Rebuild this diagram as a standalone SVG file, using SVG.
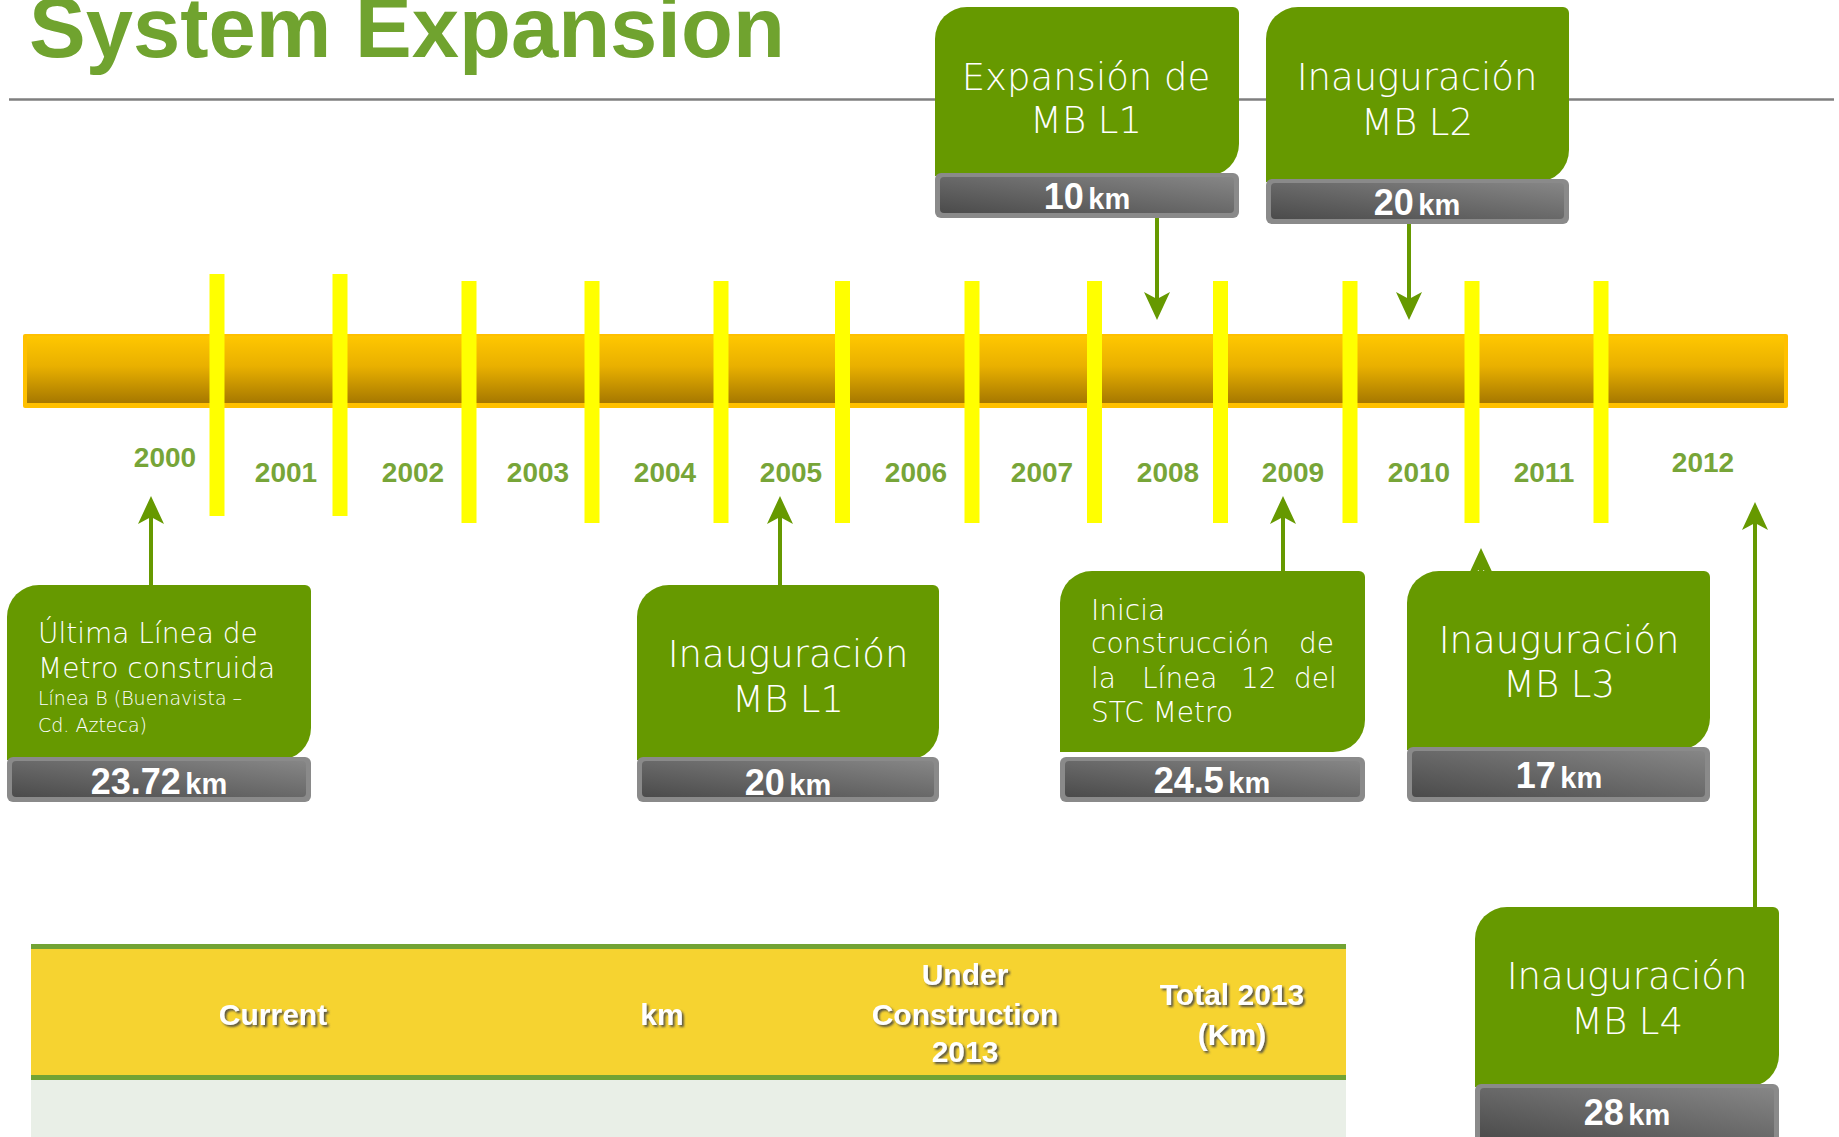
<svg xmlns="http://www.w3.org/2000/svg" width="1839" height="1137" viewBox="0 0 1839 1137">
<defs>
<style>
.title{font-family:"Liberation Sans",Arial,sans-serif;font-weight:bold;font-size:85px;fill:#70A32F}
.yr{font-family:"Liberation Sans",Arial,sans-serif;font-weight:bold;font-size:28px;fill:#77A538;text-anchor:middle}
.tick{fill:#FFFF00}
.box{fill:#669900}
.lbl{font-family:"DejaVu Sans","Liberation Sans",sans-serif;font-weight:200;fill:#FFFFFF}
.big{font-size:37px;text-anchor:middle}
.km{font-family:"Liberation Sans",Arial,sans-serif;font-weight:bold;fill:#FFFFFF;text-anchor:middle}
.num{font-size:36px}
.unit{font-size:29px}
.gout{fill:#8A8A8A}
.gin{fill:url(#gg)}
.conn{fill:none;stroke:#669900;stroke-width:4;marker-end:url(#ah)}
.th{font-family:"Liberation Sans",Arial,sans-serif;font-weight:bold;font-size:30px;fill:#FFFFFF;text-anchor:middle;filter:url(#sh)}
</style>
<linearGradient id="gg" x1="0" y1="1" x2="1" y2="0">
<stop offset="0" stop-color="#4B4B4B"/>
<stop offset="1" stop-color="#868686"/>
</linearGradient>
<linearGradient id="bar" x1="0" y1="0" x2="0" y2="1">
<stop offset="0" stop-color="#FFC700"/>
<stop offset="0.45" stop-color="#E9B000"/>
<stop offset="1" stop-color="#A67800"/>
</linearGradient>
<filter id="sh" x="-10%" y="-20%" width="130%" height="150%">
<feDropShadow dx="2" dy="2" stdDeviation="0.8" flood-color="#4A4A4A" flood-opacity="0.9"/>
</filter>
<marker id="ah" viewBox="0 0 28 28" refX="7" refY="14" markerWidth="28" markerHeight="28" markerUnits="userSpaceOnUse" orient="auto">
<path d="M0,1 L28,14 L0,27 L7,14 Z" fill="#669900"/>
</marker>
</defs>

<rect width="1839" height="1137" fill="#FFFFFF"/>

<g id="header">
<text class="title" x="29" y="57">System Expansion</text>
<line x1="9" y1="99.5" x2="1834" y2="99.5" stroke="#7F7F7F" stroke-width="2.5"/>
</g>

<g id="timeline">
<rect x="23" y="334" width="1765" height="74" rx="2" fill="#FFC000"/>
<rect x="27" y="336" width="1757" height="67" fill="url(#bar)"/>
<rect class="tick" x="209.5" y="274" width="15" height="242"/>
<rect class="tick" x="332.5" y="274" width="15" height="242"/>
<rect class="tick" x="461.5" y="281" width="15" height="242"/>
<rect class="tick" x="584.5" y="281" width="15" height="242"/>
<rect class="tick" x="713.5" y="281" width="15" height="242"/>
<rect class="tick" x="835" y="281" width="15" height="242"/>
<rect class="tick" x="964.5" y="281" width="15" height="242"/>
<rect class="tick" x="1087" y="281" width="15" height="242"/>
<rect class="tick" x="1213" y="281" width="15" height="242"/>
<rect class="tick" x="1342.5" y="281" width="15" height="242"/>
<rect class="tick" x="1464.5" y="281" width="15" height="242"/>
<rect class="tick" x="1593.5" y="281" width="15" height="242"/>
<text class="yr" x="165" y="467">2000</text>
<text class="yr" x="286" y="482">2001</text>
<text class="yr" x="413" y="482">2002</text>
<text class="yr" x="538" y="482">2003</text>
<text class="yr" x="665" y="482">2004</text>
<text class="yr" x="791" y="482">2005</text>
<text class="yr" x="916" y="482">2006</text>
<text class="yr" x="1042" y="482">2007</text>
<text class="yr" x="1168" y="482">2008</text>
<text class="yr" x="1293" y="482">2009</text>
<text class="yr" x="1419" y="482">2010</text>
<text class="yr" x="1544" y="482">2011</text>
<text class="yr" x="1703" y="472">2012</text>
</g>

<g id="connectors">
<path class="conn" d="M1157,218 V299"/>
<path class="conn" d="M1409,224 V299"/>
<path class="conn" d="M151,585 V517"/>
<path class="conn" d="M780,585 V517"/>
<path class="conn" d="M1283,571 V517"/>
<path class="conn" d="M1481,573 V569"/>
<path class="conn" d="M1755,907 V523"/>
</g>

<g id="box-expansion-mb-l1">
<path class="box" d="M935,176 V39 A32,32 0 0 1 967,7 H1233 A6,6 0 0 1 1239,13 V144 A32,32 0 0 1 1207,176 Z"/>
<text class="lbl big" x="1086" y="90">Expansión de</text>
<text class="lbl big" x="1086" y="133">MB L1</text>
<rect class="gout" x="935" y="173" width="304" height="45" rx="6"/>
<rect class="gin" x="940" y="177" width="294" height="36" rx="4"/>
<text class="km" x="1087" y="209"><tspan class="num">10</tspan> <tspan class="unit">km</tspan></text>
</g>

<g id="box-inauguracion-mb-l2">
<path class="box" d="M1266,182 V39 A32,32 0 0 1 1298,7 H1563 A6,6 0 0 1 1569,13 V150 A32,32 0 0 1 1537,182 Z"/>
<text class="lbl big" x="1417" y="90">Inauguración</text>
<text class="lbl big" x="1417" y="135">MB L2</text>
<rect class="gout" x="1266" y="179" width="303" height="45" rx="6"/>
<rect class="gin" x="1271" y="183" width="293" height="36" rx="4"/>
<text class="km" x="1417" y="215"><tspan class="num">20</tspan> <tspan class="unit">km</tspan></text>
</g>

<g id="box-ultima-linea">
<path class="box" d="M7,760 V617 A32,32 0 0 1 39,585 H305 A6,6 0 0 1 311,591 V728 A32,32 0 0 1 279,760 Z"/>
<text class="lbl" x="38" y="643" font-size="28">Última Línea de</text>
<text class="lbl" x="38" y="678" font-size="28">Metro construida</text>
<text class="lbl" x="38" y="705" font-size="19">Línea B (Buenavista –</text>
<text class="lbl" x="38" y="732" font-size="19">Cd. Azteca)</text>
<rect class="gout" x="7" y="757" width="304" height="45" rx="6"/>
<rect class="gin" x="12" y="761" width="294" height="36" rx="4"/>
<text class="km" x="159" y="794"><tspan class="num">23.72</tspan> <tspan class="unit">km</tspan></text>
</g>

<g id="box-inauguracion-mb-l1">
<path class="box" d="M637,760 V617 A32,32 0 0 1 669,585 H933 A6,6 0 0 1 939,591 V728 A32,32 0 0 1 907,760 Z"/>
<text class="lbl big" x="788" y="667">Inauguración</text>
<text class="lbl big" x="788" y="712">MB L1</text>
<rect class="gout" x="637" y="757" width="302" height="45" rx="6"/>
<rect class="gin" x="642" y="761" width="292" height="36" rx="4"/>
<text class="km" x="788" y="795"><tspan class="num">20</tspan> <tspan class="unit">km</tspan></text>
</g>

<g id="box-inicia-linea-12">
<path class="box" d="M1060,752 V603 A32,32 0 0 1 1092,571 H1359 A6,6 0 0 1 1365,577 V720 A32,32 0 0 1 1333,752 Z"/>
<text class="lbl" x="1091" y="620" font-size="28">Inicia</text>
<text class="lbl" x="1091" y="653" font-size="28">construcción</text>
<text class="lbl" x="1334" y="653" font-size="28" text-anchor="end">de</text>
<text class="lbl" y="688" font-size="28"><tspan x="1091">la</tspan><tspan x="1142">Línea</tspan><tspan x="1241">12</tspan><tspan x="1294">del</tspan></text>
<text class="lbl" x="1091" y="722" font-size="28">STC Metro</text>
<rect class="gout" x="1060" y="757" width="305" height="45" rx="6"/>
<rect class="gin" x="1065" y="761" width="295" height="36" rx="4"/>
<text class="km" x="1212" y="793"><tspan class="num">24.5</tspan> <tspan class="unit">km</tspan></text>
</g>

<g id="box-inauguracion-mb-l3">
<path class="box" d="M1407,750 V603 A32,32 0 0 1 1439,571 H1704 A6,6 0 0 1 1710,577 V718 A32,32 0 0 1 1678,750 Z"/>
<text class="lbl big" x="1559" y="653">Inauguración</text>
<text class="lbl big" x="1559" y="697">MB L3</text>
<rect class="gout" x="1407" y="747" width="303" height="55" rx="6"/>
<rect class="gin" x="1412" y="751" width="293" height="46" rx="4"/>
<text class="km" x="1559" y="788"><tspan class="num">17</tspan> <tspan class="unit">km</tspan></text>
</g>

<g id="box-inauguracion-mb-l4">
<path class="box" d="M1475,1087 V939 A32,32 0 0 1 1507,907 H1773 A6,6 0 0 1 1779,913 V1055 A32,32 0 0 1 1747,1087 Z"/>
<text class="lbl big" x="1627" y="989">Inauguración</text>
<text class="lbl big" x="1627" y="1034">MB L4</text>
<rect class="gout" x="1475" y="1084" width="304" height="60" rx="6"/>
<rect class="gin" x="1480" y="1088" width="294" height="52" rx="4"/>
<text class="km" x="1627" y="1125"><tspan class="num">28</tspan> <tspan class="unit">km</tspan></text>
</g>

<g id="table">
<rect x="31" y="944" width="1315" height="5" fill="#72A334"/>
<rect x="31" y="949" width="1315" height="126" fill="#F6D330"/>
<rect x="31" y="1075" width="1315" height="5" fill="#72A334"/>
<rect x="31" y="1080" width="1315" height="57" fill="#E9EFE7"/>
<text class="th" x="273" y="1025">Current</text>
<text class="th" x="662" y="1025">km</text>
<text class="th" x="965" y="985">Under</text>
<text class="th" x="965" y="1025">Construction</text>
<text class="th" x="965" y="1062">2013</text>
<text class="th" x="1232" y="1005">Total 2013</text>
<text class="th" x="1232" y="1045">(Km)</text>
</g>
</svg>
